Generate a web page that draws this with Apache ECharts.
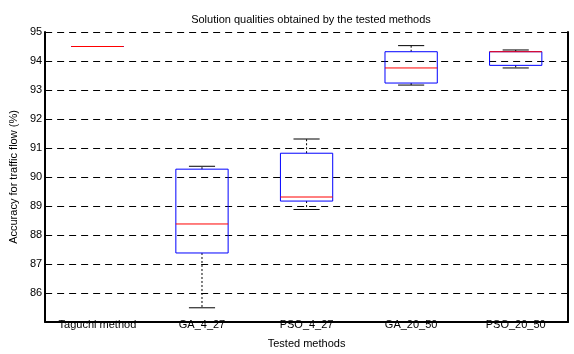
<!DOCTYPE html>
<html>
<head>
<meta charset="utf-8">
<script src="https://cdn.jsdelivr.net/npm/echarts@6/dist/echarts.min.js"></script>
<style>
  html, body { margin: 0; padding: 0; background: #fff; }
  #main { width: 574px; height: 354px; }
</style>
</head>
<body>
<div id="main"></div>
<script>
var methods = ['Taguchi method', 'GA_4_27', 'PSO_4_27', 'GA_20_50', 'PSO_20_50'];
// [lower whisker, box bottom, median, box top, upper whisker]
var lowWhisker = [94.5, 85.49, 88.88, 93.17, 93.76];
var q1 = [94.5, 87.38, 89.17, 93.24, 93.85];
var median = [94.5, 88.38, 89.31, 93.76, 94.32];
var q3 = [94.5, 90.27, 90.82, 94.32, 94.32];
var highWhisker = [94.5, 90.37, 91.31, 94.53, 94.38];
var yTicks = [86, 87, 88, 89, 90, 91, 92, 93, 94, 95];

var boxData = [];
for (var i = 0; i < methods.length; i++) {
  boxData.push([i, lowWhisker[i], q1[i], median[i], q3[i], highWhisker[i]]);
}

var myChart = echarts.init(document.getElementById('main'));

function renderBox(params, api) {
  var idx = api.value(0);
  var pLow = api.coord([idx, api.value(1)]);
  var pQ1 = api.coord([idx, api.value(2)]);
  var pMed = api.coord([idx, api.value(3)]);
  var pQ3 = api.coord([idx, api.value(4)]);
  var pHigh = api.coord([idx, api.value(5)]);
  var band = api.size([1, 0])[0];
  var half = band * 0.25;
  var cap = band * 0.125;
  var x = pMed[0];
  var whisker = { stroke: '#000', lineWidth: 1, lineDash: [2, 2] };
  return {
    type: 'group',
    children: [
      { type: 'line', shape: { x1: x, y1: pQ3[1], x2: x, y2: pHigh[1] }, style: whisker },
      { type: 'line', shape: { x1: x, y1: pQ1[1], x2: x, y2: pLow[1] }, style: whisker },
      { type: 'line', shape: { x1: x - cap, y1: pHigh[1], x2: x + cap, y2: pHigh[1] }, style: { stroke: '#000', lineWidth: 1 } },
      { type: 'line', shape: { x1: x - cap, y1: pLow[1], x2: x + cap, y2: pLow[1] }, style: { stroke: '#000', lineWidth: 1 } },
      { type: 'rect', shape: { x: x - half, y: pQ3[1], width: half * 2, height: pQ1[1] - pQ3[1] },
        style: { fill: 'none', stroke: '#0000ff', lineWidth: 1 } },
      { type: 'line', shape: { x1: x - half, y1: pMed[1], x2: x + half, y2: pMed[1] },
        style: { stroke: '#ff0000', lineWidth: 1 } }
    ]
  };
}

var option = {
  animation: false,
  backgroundColor: '#fff',
  textStyle: { fontFamily: 'Liberation Sans, Arial, sans-serif' },
  title: {
    text: 'Solution qualities obtained by the tested methods',
    left: 306, top: 9, textAlign: 'center',
    textStyle: { fontSize: 11, fontWeight: 'normal', color: '#000' }
  },
  grid: { left: 44, right: 6, top: 32, bottom: 27 },
  xAxis: {
    type: 'category',
    data: methods,
    boundaryGap: true,
    name: 'Tested methods',
    nameLocation: 'middle',
    nameGap: 16,
    nameTextStyle: { fontSize: 11, color: '#000' },
    axisLine: { lineStyle: { color: '#000', width: 2 } },
    axisTick: { show: false },
    axisLabel: { margin: -3, fontSize: 11, color: '#000', interval: 0 },
    splitLine: { show: false }
  },
  yAxis: [{
    type: 'value',
    min: 85, max: 95, interval: 1,
    name: 'Accuracy for traffic flow (%)',
    nameLocation: 'middle',
    nameGap: 19,
    nameTextStyle: { fontSize: 11, color: '#000' },
    axisLine: { show: true, lineStyle: { color: '#000', width: 2 } },
    axisTick: { show: true, inside: true, length: 4, lineStyle: { color: '#000' } },
    axisLabel: {
      fontSize: 11, color: '#000', margin: 3,
      formatter: function (v) { return yTicks.indexOf(v) >= 0 ? String(v) : ''; }
    },
    splitLine: { show: true, lineStyle: { color: '#000', type: [7, 5], width: 1 } }
  }, {
    type: 'value',
    min: 85, max: 95, interval: 1,
    position: 'right',
    axisLine: { show: true, lineStyle: { color: '#000', width: 2 } },
    axisTick: { show: true, inside: true, length: 3, lineStyle: { color: '#000' } },
    axisLabel: { show: false },
    splitLine: { show: false }
  }],
  series: [{
    type: 'custom',
    renderItem: renderBox,
    encode: { x: 0, y: [1, 2, 3, 4, 5] },
    data: boxData
  }]
};

myChart.setOption(option);
</script>
</body>
</html>
